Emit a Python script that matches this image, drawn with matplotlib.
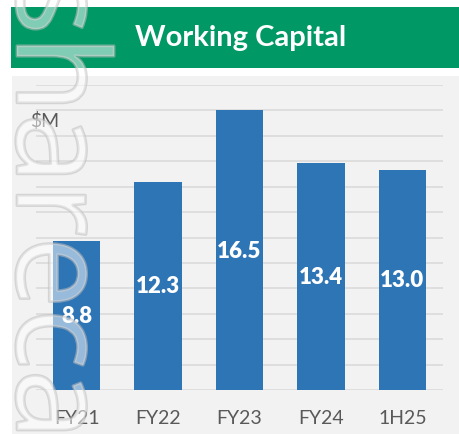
import matplotlib
matplotlib.use("Agg")
import matplotlib.pyplot as plt
import matplotlib.patheffects as pe
from matplotlib.patches import Rectangle

categories = ["FY21", "FY22", "FY23", "FY24", "1H25"]
values = [8.8, 12.3, 16.5, 13.4, 13.0]
labels = ["8.8", "12.3", "16.5", "13.4", "13.0"]
title = "Working Capital"
unit = "$M"

W, H = 460, 435
fig = plt.figure(figsize=(W / 100, H / 100), dpi=100)
fig.patch.set_facecolor("white")

def fx(px):
    return px / W

def fy(py):
    return 1 - py / H

# gray panel
fig.patches.append(Rectangle((fx(12), 0), 1 - fx(12), fy(77), transform=fig.transFigure,
                             facecolor="#F2F2F2", edgecolor="none", zorder=-2))
# green banner
fig.patches.append(Rectangle((fx(11), fy(69)), 1 - fx(11), (69 - 8) / H, transform=fig.transFigure,
                             facecolor="#009966", edgecolor="none", zorder=-2))
fig.text(fx(241), fy(38), title, ha="center", va="center", color="white",
         fontsize=21, fontweight="bold", family=["Lato", "DejaVu Sans"])

ax = fig.add_axes([fx(36), fy(391), (443 - 36) / W, (391 - 86) / H])
ax.set_zorder(2)
ax.set_facecolor("none")
x = list(range(len(categories)))
ax.bar(x, values, width=0.58, color="#2E75B6", zorder=3)
for xi, v, lab in zip(x, values, labels):
    ax.text(xi, v / 2, lab, ha="center", va="center", color="white",
            fontsize=16, fontweight="heavy", family=["Lato", "DejaVu Sans"], zorder=4)

ax.set_xlim(-0.5, 4.5)
ax.set_ylim(0, 18)
ax.set_yticks([i * 1.5 for i in range(13)])
ax.yaxis.grid(True, color="#D9D9D9", linewidth=1.1, zorder=1)
ax.set_axisbelow(True)
ax.tick_params(axis="y", left=False, labelleft=False)
ax.tick_params(axis="x", length=0, pad=14, labelsize=14, labelcolor="#595959")
ax.set_xticks(x)
ax.set_xticklabels(categories, family=["Lato", "DejaVu Sans"])
for s in ax.spines.values():
    s.set_visible(False)

fig.text(fx(30), fy(121), unit, ha="left", va="center", color="#595959",
         fontsize=14, family=["Lato", "DejaVu Sans"], zorder=3)

# faint watermark at left edge
wm = fig.text(fx(-14), fy(-25), "sharecafe", rotation=-90, ha="left", va="top",
              fontsize=92, color=(1, 1, 1, 0.3), family=["Open Sans", "DejaVu Sans"],
              zorder=10)
wm.set_path_effects([pe.withStroke(linewidth=2.0, foreground=(0.74, 0.74, 0.74, 0.55))])

fig.savefig("out.png", dpi=100)
